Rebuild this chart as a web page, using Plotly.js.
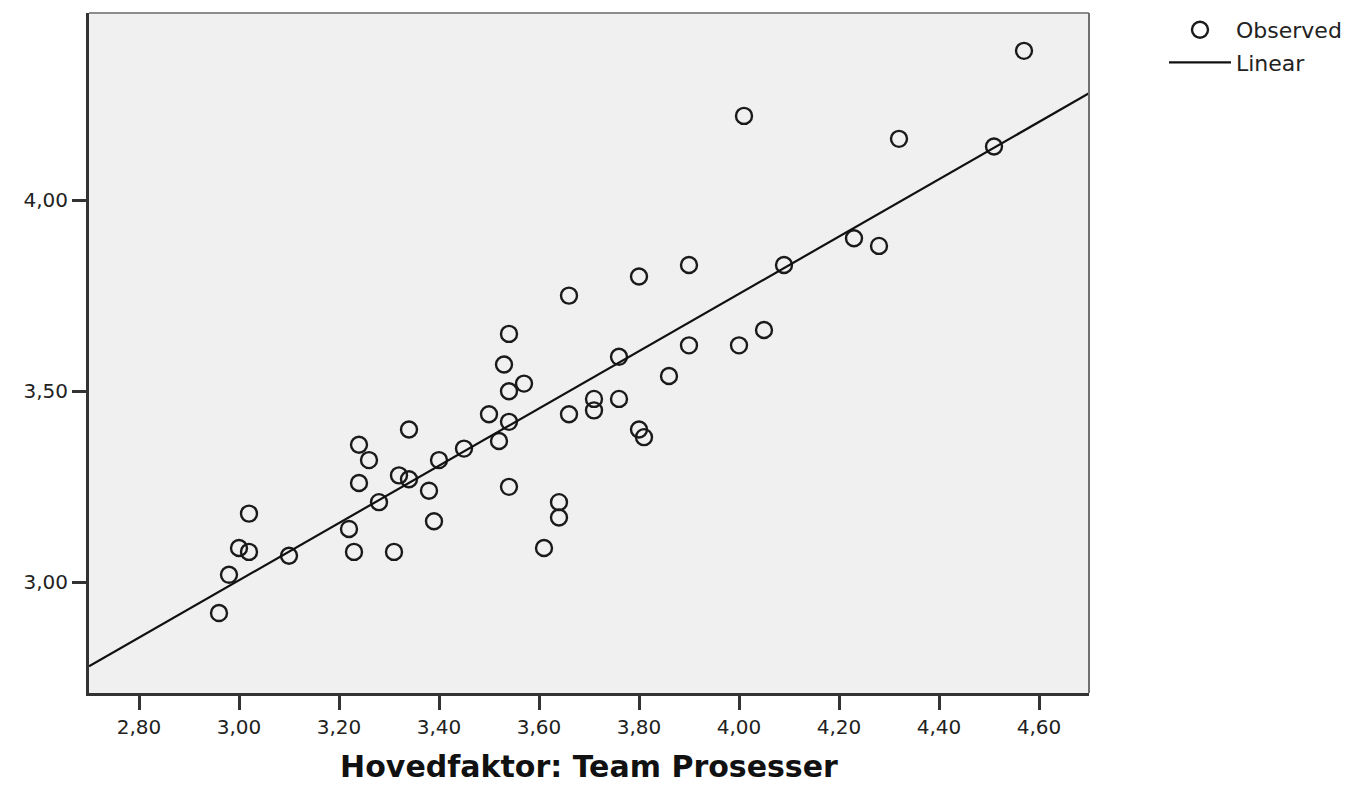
<!DOCTYPE html>
<html>
<head>
<meta charset="utf-8">
<script src="https://cdn.plot.ly/plotly-3.0.1.min.js"></script>
<style>html,body{margin:0;padding:0;background:#ffffff;}</style>
</head>
<body>
<div id="chart" style="width:1360px;height:788px;"></div>
<script>
// Observed values (x: Hovedfaktor: Team Prosesser, y: dependent factor)
const teamProsesser = [2.96, 2.98, 3.00, 3.02, 3.02, 3.10, 3.22, 3.23, 3.24, 3.26,
  3.24, 3.28, 3.31, 3.32, 3.34, 3.34, 3.38, 3.39, 3.40, 3.45,
  3.50, 3.52, 3.54, 3.54, 3.53, 3.54, 3.57, 3.54, 3.61, 3.64,
  3.64, 3.66, 3.66, 3.71, 3.71, 3.76, 3.76, 3.80, 3.81, 3.80,
  3.86, 3.90, 3.90, 4.00, 4.05, 4.01, 4.09, 4.23, 4.28, 4.32,
  4.51, 4.57];
const observedValues = [2.92, 3.02, 3.09, 3.08, 3.18, 3.07, 3.14, 3.08, 3.36, 3.32,
  3.26, 3.21, 3.08, 3.28, 3.27, 3.40, 3.24, 3.16, 3.32, 3.35,
  3.44, 3.37, 3.42, 3.50, 3.57, 3.65, 3.52, 3.25, 3.09, 3.21,
  3.17, 3.44, 3.75, 3.48, 3.45, 3.48, 3.59, 3.40, 3.38, 3.80,
  3.54, 3.83, 3.62, 3.62, 3.66, 4.22, 3.83, 3.90, 3.88, 4.16,
  4.14, 4.39];
// Linear fit line, end points
const linearX = [2.70, 4.70];
const linearY = [2.781, 4.279];
const seriesNames = ["Observed", "Linear"];
const xTitle = "Hovedfaktor: Team Prosesser";

const traces = [
  {
    type: "scatter", mode: "markers", name: seriesNames[0],
    x: teamProsesser, y: observedValues,
    marker: {symbol: "circle-open", size: 16, color: "#1a1a1a", line: {width: 2.4, color: "#1a1a1a"}},
    legendgroup: "a", hoverinfo: "x+y"
  },
  {
    type: "scatter", mode: "lines", name: seriesNames[1],
    x: linearX, y: linearY,
    line: {color: "#111111", width: 2.2},
    legendgroup: "b", hoverinfo: "skip"
  }
];

const layout = {
  width: 1360, height: 788,
  margin: {l: 89, r: 271, t: 13, b: 95, pad: 0, autoexpand: false},
  paper_bgcolor: "#ffffff",
  plot_bgcolor: "#f0f0f0",
  separators: ",.",
  font: {family: "DejaVu Sans, Arial, sans-serif", color: "#222222"},
  showlegend: true,
  legend: {
    x: 1.075, xanchor: "left", y: 1.006, yanchor: "top",
    font: {family: "DejaVu Sans, Arial, sans-serif", size: 22, color: "#222222"},
    bgcolor: "rgba(0,0,0,0)", borderwidth: 0,
    traceorder: "grouped", tracegroupgap: 1, itemwidth: 62
  },
  xaxis: {
    range: [2.70, 4.70], tick0: 0, dtick: 0.2, tickformat: ".2f",
    showgrid: false, zeroline: false,
    showline: true, linecolor: "#333333", linewidth: 3, mirror: false,
    ticks: "outside", ticklen: 14, tickwidth: 3, tickcolor: "#333333",
    tickfont: {family: "DejaVu Sans, Arial, sans-serif", size: 20, color: "#222222"},
    title: {text: xTitle, font: {family: "DejaVu Sans, Arial, sans-serif", size: 30, weight: "bold", color: "#111111"}, standoff: 18}
  },
  yaxis: {
    range: [2.711, 4.489], tick0: 0, dtick: 0.5, tickformat: ".2f",
    showgrid: false, zeroline: false,
    showline: true, linecolor: "#333333", linewidth: 3, mirror: false,
    ticks: "outside", ticklen: 14, tickwidth: 3, tickcolor: "#333333",
    tickfont: {family: "DejaVu Sans, Arial, sans-serif", size: 20, color: "#222222"}
  },
  shapes: [
    {type: "line", xref: "paper", yref: "paper", x0: 0, x1: 1, y0: 1, y1: 1, line: {color: "#8c8c8c", width: 2}},
    {type: "line", xref: "paper", yref: "paper", x0: 1, x1: 1, y0: 0, y1: 1, line: {color: "#707070", width: 2}}
  ]
};

Plotly.newPlot("chart", traces, layout, {displayModeBar: false, staticPlot: true});
</script>
</body>
</html>
